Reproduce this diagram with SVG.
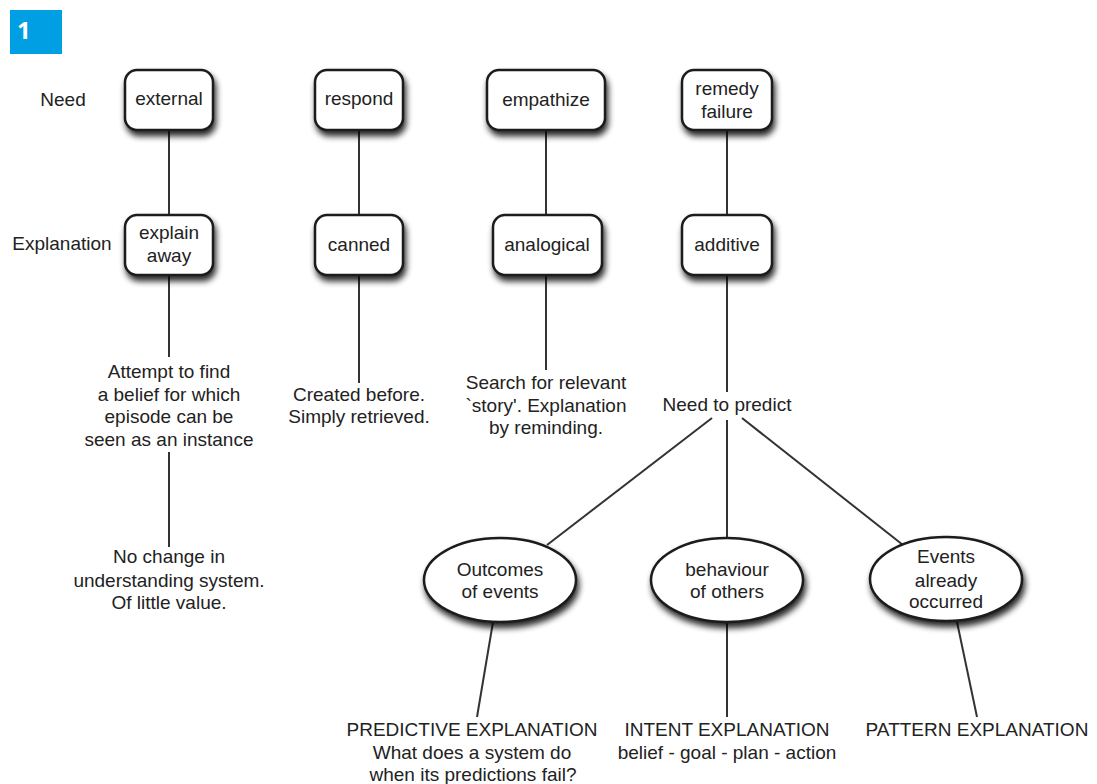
<svg xmlns="http://www.w3.org/2000/svg" width="1097" height="784" viewBox="0 0 1097 784">
<style>
  text { font-family: "Liberation Sans", Arial, sans-serif; font-size: 19px; fill: #222; text-anchor: middle; }
  .node { fill: #fff; stroke: #1a1a1a; stroke-width: 2.5; filter: url(#sh); }
  .conn line { stroke: #333; stroke-width: 2; }
  .badge-text { font-family: "Noto Sans", "Open Sans", sans-serif; font-weight: bold; font-size: 24px; fill: #fff; text-anchor: start; }
</style>
<defs>
  <filter id="sh" x="-30%" y="-30%" width="160%" height="170%">
    <feGaussianBlur in="SourceAlpha" stdDeviation="3"/>
    <feOffset dx="2" dy="5" result="b"/>
    <feComponentTransfer><feFuncA type="linear" slope="0.85"/></feComponentTransfer>
    <feMerge><feMergeNode/><feMergeNode in="SourceGraphic"/></feMerge>
  </filter>
</defs>
<rect width="1097" height="784" fill="#fff"/>

<g id="badge">
  <rect x="10" y="10" width="52" height="44" fill="#009fe3"/>
  <text class="badge-text" x="17" y="39">1</text>
</g>

<g id="connectors" class="conn">
  <line x1="169" y1="130" x2="169" y2="215"/>
  <line x1="359" y1="130" x2="359" y2="215"/>
  <line x1="546" y1="130" x2="546" y2="215"/>
  <line x1="727" y1="130" x2="727" y2="215"/>
  <line x1="169" y1="275" x2="169" y2="357"/>
  <line x1="169" y1="452" x2="169" y2="547"/>
  <line x1="359" y1="275" x2="359" y2="383"/>
  <line x1="546" y1="275" x2="546" y2="370"/>
  <line x1="727" y1="275" x2="727" y2="392"/>
  <line x1="712" y1="418" x2="547" y2="545"/>
  <line x1="727" y1="420" x2="727" y2="537"/>
  <line x1="742" y1="418" x2="903" y2="545"/>
  <line x1="493" y1="622" x2="477" y2="717"/>
  <line x1="727" y1="622" x2="727" y2="717"/>
  <line x1="957" y1="622" x2="977" y2="717"/>
</g>

<g id="row-labels">
  <text x="63" y="106">Need</text>
  <text x="62" y="250">Explanation</text>
</g>

<g id="node-external">
  <rect class="node" x="125" y="70" width="88" height="60" rx="12"/>
  <text x="169" y="105">external</text>
</g>
<g id="node-respond">
  <rect class="node" x="315" y="70" width="88" height="60" rx="12"/>
  <text x="359" y="105">respond</text>
</g>
<g id="node-empathize">
  <rect class="node" x="487" y="70" width="118" height="60" rx="12"/>
  <text x="546" y="106">empathize</text>
</g>
<g id="node-remedy">
  <rect class="node" x="682" y="70" width="90" height="60" rx="12"/>
  <text x="727" y="95">remedy</text>
  <text x="727" y="118">failure</text>
</g>

<g id="node-explain-away">
  <rect class="node" x="125" y="215" width="88" height="60" rx="12"/>
  <text x="169" y="239">explain</text>
  <text x="169" y="262">away</text>
</g>
<g id="node-canned">
  <rect class="node" x="315" y="215" width="88" height="60" rx="12"/>
  <text x="359" y="251">canned</text>
</g>
<g id="node-analogical">
  <rect class="node" x="493" y="215" width="109" height="60" rx="12"/>
  <text x="547" y="251">analogical</text>
</g>
<g id="node-additive">
  <rect class="node" x="682" y="215" width="90" height="60" rx="12"/>
  <text x="727" y="251">additive</text>
</g>

<g id="text-attempt">
  <text x="169" y="378">Attempt to find</text>
  <text x="169" y="401">a belief for which</text>
  <text x="169" y="423">episode can be</text>
  <text x="169" y="446">seen as an instance</text>
</g>
<g id="text-nochange">
  <text x="169" y="563">No change in</text>
  <text x="169" y="587">understanding system.</text>
  <text x="169" y="609">Of little value.</text>
</g>
<g id="text-created">
  <text x="359" y="401">Created before.</text>
  <text x="359" y="423">Simply retrieved.</text>
</g>
<g id="text-search">
  <text x="546" y="389">Search for relevant</text>
  <text x="546" y="412">`story'. Explanation</text>
  <text x="546" y="434">by reminding.</text>
</g>
<g id="text-need-predict">
  <text x="727" y="411">Need to predict</text>
</g>

<g id="node-outcomes">
  <ellipse class="node" cx="500" cy="580" rx="76" ry="42"/>
  <text x="500" y="576">Outcomes</text>
  <text x="500" y="598">of events</text>
</g>
<g id="node-behaviour">
  <ellipse class="node" cx="727" cy="580" rx="76" ry="42"/>
  <text x="727" y="576">behaviour</text>
  <text x="727" y="598">of others</text>
</g>
<g id="node-events">
  <ellipse class="node" cx="946" cy="579" rx="76" ry="42"/>
  <text x="946" y="563">Events</text>
  <text x="946" y="587">already</text>
  <text x="946" y="608">occurred</text>
</g>

<g id="text-predictive">
  <text x="472" y="736">PREDICTIVE EXPLANATION</text>
  <text x="472" y="759">What does a system do</text>
  <text x="473" y="781">when its predictions fail?</text>
</g>
<g id="text-intent">
  <text x="727" y="736">INTENT EXPLANATION</text>
  <text x="727" y="759">belief - goal - plan - action</text>
</g>
<g id="text-pattern">
  <text x="977" y="736">PATTERN EXPLANATION</text>
</g>
</svg>
